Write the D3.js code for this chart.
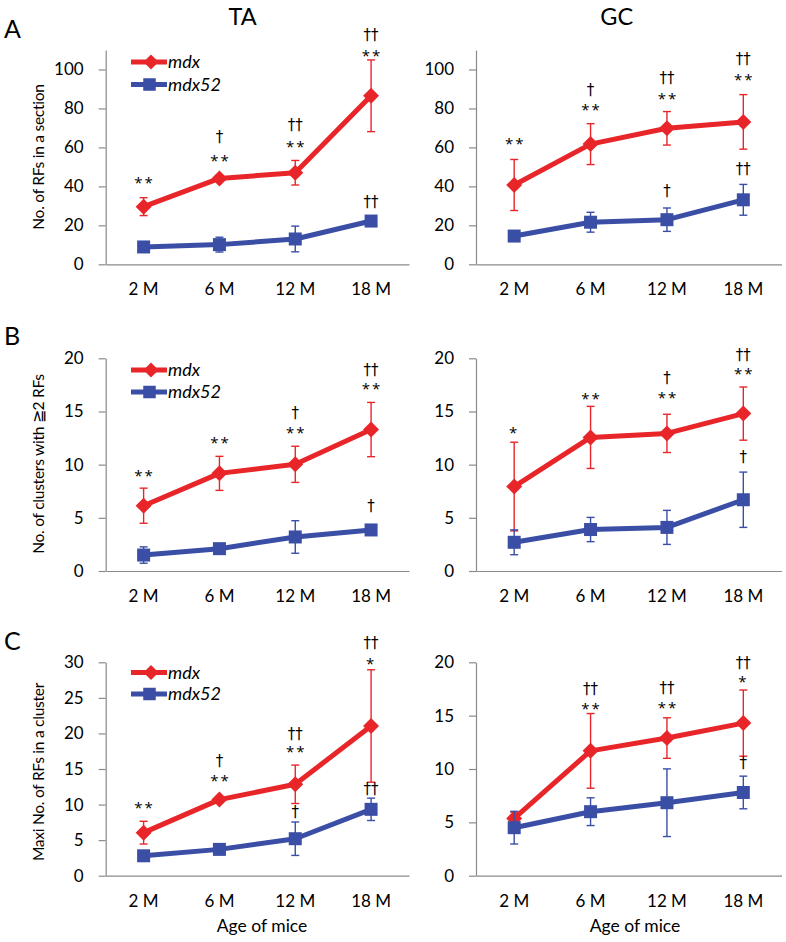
<!DOCTYPE html>
<html><head><meta charset="utf-8">
<script src="https://cdn.jsdelivr.net/npm/d3@7"></script>
<style>
body{margin:0;background:#fff}
svg{display:block}
text{font-family:Lato,"Open Sans",sans-serif;fill:#000}
tspan.star{font-family:"Open Sans","DejaVu Sans",sans-serif;font-size:15px;letter-spacing:2px}
tspan.dag{font-family:"DejaVu Sans","Open Sans",sans-serif;font-size:15px;letter-spacing:0px}
</style>
</head><body>
<svg id="chart" width="786" height="942"></svg>
<script>
// ---------- data ----------
const categories = ["2 M", "6 M", "12 M", "18 M"];
const seriesNames = ["mdx", "mdx52"];
const columnTitles = ["TA", "GC"];
const panelLetters = ["A", "B", "C"];
const yTitles = ["No. of RFs in a section", "No. of clusters with \u22672 RFs", "Maxi No. of RFs in a cluster"];
const xTitle = "Age of mice";

const ticksA = [0, 20, 40, 60, 80, 100];
const ticks20 = [0, 5, 10, 15, 20];
const ticks30 = [0, 5, 10, 15, 20, 25, 30];

// Panel A: No. of RFs in a section
const aTA_mdx = [29.6, 44.1, 47.0, 86.5];
const aTA_mdx_sd = [4.6, 1.5, 6.3, 18.4];
const aTA_mdx52 = [8.9, 10.1, 13.0, 22.2];
const aTA_mdx52_sd = [1.0, 3.8, 6.6, 1.2];
const aGC_mdx = [40.7, 61.7, 69.8, 73.1];
const aGC_mdx_sd = [13.1, 10.5, 8.6, 14.0];
const aGC_mdx52 = [14.5, 21.6, 22.9, 33.1];
const aGC_mdx52_sd = [2.0, 5.1, 6.0, 7.9];

// Panel B: No. of clusters with >=2 RFs
const bTA_mdx = [6.14, 9.18, 10.03, 13.3];
const bTA_mdx_sd = [1.65, 1.6, 1.7, 2.55];
const bTA_mdx52 = [1.5, 2.1, 3.2, 3.86];
const bTA_mdx52_sd = [0.77, 0.4, 1.53, 0.3];
const bGC_mdx = [7.94, 12.56, 12.94, 14.8];
const bGC_mdx_sd = [4.17, 2.92, 1.8, 2.5];
const bGC_mdx52 = [2.7, 3.9, 4.1, 6.7];
const bGC_mdx52_sd = [1.17, 1.14, 1.6, 2.6];

// Panel C: Maxi No. of RFs in a cluster
const cTA_mdx = [6.05, 10.7, 12.85, 21.05];
const cTA_mdx_sd = [1.6, 0.4, 2.7, 7.9];
const cTA_mdx52 = [2.8, 3.7, 5.2, 9.33];
const cTA_mdx52_sd = [0.5, 0.4, 2.35, 1.57];
const cGC_mdx = [5.37, 11.7, 12.9, 14.3];
const cGC_mdx_sd = [0.6, 3.5, 1.9, 3.1];
const cGC_mdx52 = [4.5, 6.0, 6.84, 7.8];
const cGC_mdx52_sd = [1.53, 1.3, 3.17, 1.53];

// significance marks: [category index, lines (top to bottom), values at which each line sits]
const aTA_sig = [[0,["**"],[43.7]],[1,["\u2020","**"],[65.4,55.2]],[2,["\u2020\u2020","**"],[71.4,62.4]],[3,["\u2020\u2020","**"],[117.9,109]],[3,["\u2020\u2020"],[31.8]]];
const aGC_sig = [[0,["**"],[63.8]],[1,["\u2020","**"],[89.6,81.3]],[2,["\u2020\u2020","**"],[95.7,87.1]],[3,["\u2020\u2020","**"],[105.2,96.6]],[2,["\u2020"],[37.4]],[3,["\u2020\u2020"],[48.8]]];
const bTA_sig = [[0,["**"],[9.34]],[1,["**"],[12.38]],[2,["\u2020","**"],[14.83,13.32]],[3,["\u2020\u2020","**"],[18.9,17.49]],[3,["\u2020"],[6.11]]];
const bGC_sig = [[0,["*"],[13.35]],[1,["**"],[16.53]],[2,["\u2020","**"],[18.18,16.68]],[3,["\u2020\u2020","**"],[20.3,18.87]],[3,["\u2020"],[10.68]]];
const cTA_sig = [[0,["**"],[10.04]],[1,["\u2020","**"],[16.17,13.92]],[2,["\u2020\u2020","**"],[19.93,17.92]],[3,["\u2020\u2020","*"],[32.77,30.33]],[2,["\u2020"],[9.0]],[3,["\u2020\u2020"],[12.15]]];
const cGC_sig = [[1,["\u2020\u2020","**"],[17.5,16.0]],[2,["\u2020\u2020","**"],[17.6,16.1]],[3,["\u2020\u2020","*"],[19.9,18.5]],[3,["\u2020"],[10.53]]];

// ---------- layout / style ----------
const RED = "#E8262A", BLUE = "#3A4EA6", AXIS = "#8a8a8a";
const colX = [{left:105.7, right:409}, {left:476, right:781.5}];
const rowY = [{top:50, bottom:264.3}, {top:358.3, bottom:571}, {top:662.3, bottom:875.7}];

const panels = [
  {row:0,col:0,max:110,ticks:ticksA,s:[aTA_mdx,aTA_mdx52],sd:[aTA_mdx_sd,aTA_mdx52_sd],sig:aTA_sig},
  {row:0,col:1,max:110,ticks:ticksA,s:[aGC_mdx,aGC_mdx52],sd:[aGC_mdx_sd,aGC_mdx52_sd],sig:aGC_sig},
  {row:1,col:0,max:20,ticks:ticks20,s:[bTA_mdx,bTA_mdx52],sd:[bTA_mdx_sd,bTA_mdx52_sd],sig:bTA_sig},
  {row:1,col:1,max:20,ticks:ticks20,s:[bGC_mdx,bGC_mdx52],sd:[bGC_mdx_sd,bGC_mdx52_sd],sig:bGC_sig},
  {row:2,col:0,max:30,ticks:ticks30,s:[cTA_mdx,cTA_mdx52],sd:[cTA_mdx_sd,cTA_mdx52_sd],sig:cTA_sig},
  {row:2,col:1,max:20,ticks:ticks20,s:[cGC_mdx,cGC_mdx52],sd:[cGC_mdx_sd,cGC_mdx52_sd],sig:cGC_sig}
];

const svg = d3.select("#chart");
const colors = [RED, BLUE];

// column titles
const titleX = [242.5, 616.7];
columnTitles.forEach((t,i) => {
  svg.append("text").attr("x", titleX[i]).attr("y", 25).attr("text-anchor","middle")
    .attr("font-size", 23.5).text(t);
});
// panel letters
const letterY = [38, 345, 650];
panelLetters.forEach((t,i) => {
  svg.append("text").attr("x", 4).attr("y", letterY[i]).attr("font-size", 25).text(t);
});
// y titles
const yTitleCy = [157, 464, 772];
yTitles.forEach((t,i) => {
  svg.append("text").attr("transform", `translate(44,${yTitleCy[i]}) rotate(-90)`)
    .attr("text-anchor","middle").attr("font-size", 15.5).attr("letter-spacing", -0.25).text(t);
});
// x titles
const xTitleCx = [262, 635];
xTitleCx.forEach(cx => {
  svg.append("text").attr("x", cx).attr("y", 932).attr("text-anchor","middle")
    .attr("font-size", 17.5).text(xTitle);
});

function diamond(sel, cx, cy, r, color) {
  sel.append("path").attr("d", `M${cx},${cy-r}L${cx+r},${cy}L${cx},${cy+r}L${cx-r},${cy}Z`).attr("fill", color);
}
function square(sel, cx, cy, s, color) {
  sel.append("rect").attr("x", cx-s/2).attr("y", cy-s/2).attr("width", s).attr("height", s).attr("fill", color);
}

panels.forEach(p => {
  const cx = colX[p.col], ry = rowY[p.row];
  const x = d3.scaleBand().domain(categories).range([cx.left, cx.right]);
  const y = d3.scaleLinear().domain([0, p.max]).range([ry.bottom, ry.top]);
  const g = svg.append("g");

  // y axis
  const ya = g.append("g").attr("transform", `translate(${cx.left},0)`)
    .call(d3.axisLeft(y).tickValues(p.ticks).tickSize(7).tickSizeOuter(0).tickPadding(15));
  ya.select(".domain").attr("stroke", AXIS).attr("stroke-width", 1.2);
  ya.selectAll(".tick line").attr("stroke", AXIS).attr("stroke-width", 1.2);
  ya.selectAll(".tick text").attr("font-size", 17).style("font-family", "Lato").style("fill", "#000");

  // x axis
  const xa = g.append("g").attr("transform", `translate(0,${ry.bottom})`)
    .call(d3.axisBottom(x).tickSize(0).tickSizeOuter(0).tickPadding(0));
  xa.select(".domain").attr("stroke", AXIS).attr("stroke-width", 1.2);
  xa.selectAll(".tick text").attr("font-size", 17).style("font-family", "Lato").style("fill", "#000")
    .attr("dy", null).attr("y", 31);

  const xc = c => x(c) + x.bandwidth()/2;

  // series
  p.s.forEach((vals, si) => {
    const col = colors[si];
    const line = d3.line().x((d,i) => xc(categories[i])).y(d => y(d));
    g.append("path").attr("d", line(vals)).attr("fill","none").attr("stroke", col)
      .attr("stroke-width", 5).attr("stroke-linejoin","round");
    // error bars
    vals.forEach((v,i) => {
      const sd = p.sd[si][i], X = xc(categories[i]);
      g.append("line").attr("x1",X).attr("x2",X).attr("y1",y(v+sd)).attr("y2",y(v-sd))
        .attr("stroke",col).attr("stroke-width",1.4);
      [v+sd, v-sd].forEach(e => {
        g.append("line").attr("x1",X-4).attr("x2",X+4).attr("y1",y(e)).attr("y2",y(e))
          .attr("stroke",col).attr("stroke-width",1.4);
      });
    });
    // markers
    vals.forEach((v,i) => {
      const X = xc(categories[i]);
      if (si === 0) diamond(g, X, y(v), 8, col); else square(g, X, y(v), 13, col);
    });
  });

  // significance marks (one text per point, one tspan per line)
  p.sig.forEach(([ci, lines, ats]) => {
    const X = xc(categories[ci]);
    const t = g.append("text").attr("text-anchor","middle");
    lines.forEach((ln, k) => {
      const isStar = ln[0] === "*";
      t.append("tspan").attr("class", isStar ? "star" : "dag")
        .attr("x", X + (isStar && ln.length > 1 ? 1 : 0))
        .attr("y", y(ats[k]) + (isStar ? 9 : 5))
        .text(ln);
    });
  });

  // legend (TA column only)
  if (p.col === 0) {
    const ly = [[62, 84.5], [370, 392], [672.5, 694]][p.row];
    seriesNames.forEach((n, si) => {
      const yy = ly[si];
      g.append("line").attr("x1",131).attr("x2",167).attr("y1",yy).attr("y2",yy)
        .attr("stroke",colors[si]).attr("stroke-width",5);
      if (si === 0) diamond(g, 151, yy, 7.5, colors[si]); else square(g, 149.5, yy, 12.5, colors[si]);
      g.append("text").attr("x",168).attr("y",yy+6).attr("font-size",18)
        .attr("font-style","italic").text(n);
    });
  }
});
</script>
</body></html>
